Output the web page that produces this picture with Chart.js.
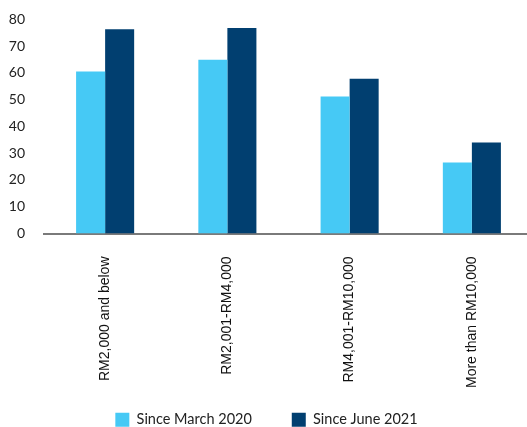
<!DOCTYPE html>
<html>
<head>
<meta charset="utf-8">
<script src="https://cdn.jsdelivr.net/npm/chart.js@4"></script>
<style>
  html, body { margin: 0; padding: 0; background: #fff; overflow: hidden; }
  #wrap { width: 533px; height: 427px; }
</style>
</head>
<body>
<div id="wrap"><canvas id="incomeChart" width="533" height="427"></canvas></div>
<script>
const categories = ['RM2,000 and below', 'RM2,001-RM4,000', 'RM4,001-RM10,000', 'More than RM10,000'];
const sinceMarch2020 = [60.5, 64.9, 51.2, 26.5];
const sinceJune2021 = [76.3, 76.8, 57.8, 34.0];
const yTicks = [0, 10, 20, 30, 40, 50, 60, 70, 80];

const ctx = document.getElementById('incomeChart');

const chart = new Chart(ctx, {
  type: 'bar',
  data: {
    labels: categories,
    datasets: [
      {
        label: 'Since March 2020',
        data: sinceMarch2020,
        backgroundColor: '#46C9F5',
      },
      {
        label: 'Since June 2021',
        data: sinceJune2021,
        backgroundColor: '#013F70',
      },
    ],
  },
  options: {
    responsive: false,
    animation: false,
    categoryPercentage: 0.475,
    barPercentage: 1.0,
    layout: { padding: { top: 6, bottom: -10, left: 0, right: 0 } },
    plugins: {
      tooltip: { enabled: false },
      legend: {
        position: 'bottom',
        labels: {
          boxWidth: 14,
          boxHeight: 14,
          padding: 25,
          color: '#222',
          font: { family: 'Lato', size: 14.5 },
          // widen the gap after the first item so the two entries sit apart
          generateLabels: (c) => Chart.defaults.plugins.legend.labels.generateLabels(c)
            .map((item, i) => ({ ...item, text: i === 0 ? item.text + '\u00a0'.repeat(4) : item.text })),
        },
      },
    },
    scales: {
      x: {
        afterFit: (axis) => { axis.height = 154; },
        grid: { display: false },
        border: { display: true, color: '#7a7a7a', width: 2 },
        ticks: {
          minRotation: 90,
          maxRotation: 90,
          padding: 15,
          color: '#111',
          font: { family: 'Liberation Sans', size: 14 },
        },
      },
      y: {
        min: 0,
        max: yTicks[yTicks.length - 1],
        afterBuildTicks: (axis) => {
          axis.ticks = yTicks.map((v) => ({ value: v }));
        },
        afterFit: (axis) => { axis.width = 44; },
        grid: { display: false },
        border: { display: false },
        ticks: {
          padding: 11,
          color: '#222',
          font: { family: 'Lato', size: 14 },
        },
      },
    },
  },
});
</script>
</body>
</html>
